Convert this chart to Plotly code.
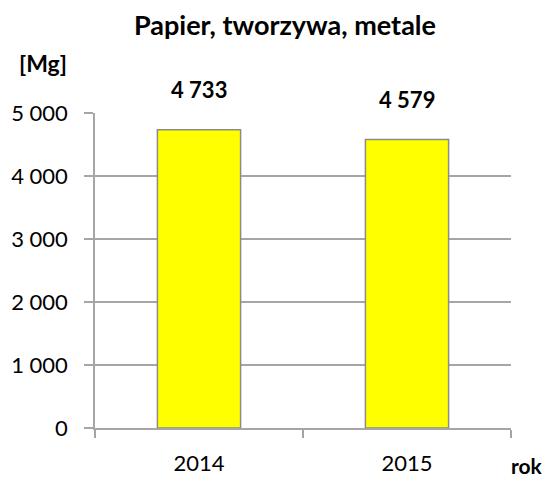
import plotly.graph_objects as go

years = ["2014", "2015"]
values = [4733, 4579]
value_labels = ["4 733", "4 579"]
y_ticks = [0, 1000, 2000, 3000, 4000, 5000]
y_tick_labels = ["0", "1 000", "2 000", "3 000", "4 000", "5 000"]

FONT = "Lato, 'Open Sans', sans-serif"
GRAY = "#a6a6a6"

fig = go.Figure()
fig.add_trace(go.Bar(
    x=years, y=values, width=0.4,
    marker=dict(color="#ffff00", line=dict(color="#8c8c8c", width=1.5)),
    hoverinfo="skip",
))

for i, (v, lab) in enumerate(zip(values, value_labels)):
    fig.add_annotation(x=i, y=v, text=f"<b>{lab}</b>", showarrow=False,
                       yshift=40, font=dict(size=22, color="black", family=FONT))

fig.add_annotation(xref="paper", yref="paper", x=-0.125, y=1.158, text="<b>[Mg]</b>",
                   showarrow=False, xanchor="center", yanchor="middle",
                   font=dict(size=23, color="black", family=FONT))
fig.add_annotation(xref="paper", yref="paper", x=1.082, y=-0.118, text="<b>rok</b>",
                   showarrow=False, xanchor="right", yanchor="middle",
                   font=dict(size=21, color="black", family=FONT))

fig.update_layout(
    width=542, height=471,
    margin=dict(l=87, r=39, t=105, b=51, autoexpand=False),
    paper_bgcolor="white", plot_bgcolor="white",
    showlegend=False,
    title=dict(text="<b>Papier, tworzywa, metale</b>", x=0.511, xanchor="center",
               y=0.963, yanchor="middle",
               font=dict(size=27, color="black", family=FONT)),
    font=dict(family=FONT, color="black"),
)
fig.update_xaxes(
    type="category", range=[-0.5, 1.5], autorange=False, automargin=False,
    showline=True, linecolor=GRAY, linewidth=1.5,
    ticks="outside", tickson="boundaries", ticklen=8, tickcolor=GRAY, tickwidth=1.5,
    ticklabelstandoff=15,
    tickfont=dict(size=22, family=FONT, color="black"), showgrid=False,
)
fig.update_yaxes(
    range=[0, 5000], autorange=False, automargin=False,
    tickvals=y_ticks, ticktext=y_tick_labels,
    showline=True, linecolor=GRAY, linewidth=1.5,
    ticks="outside", ticklen=9, tickcolor=GRAY, tickwidth=1.5,
    ticklabelstandoff=12,
    showgrid=True, gridcolor=GRAY, gridwidth=1.5, zeroline=False,
    tickfont=dict(size=22, family=FONT, color="black"),
)

fig.write_html("out.html")
